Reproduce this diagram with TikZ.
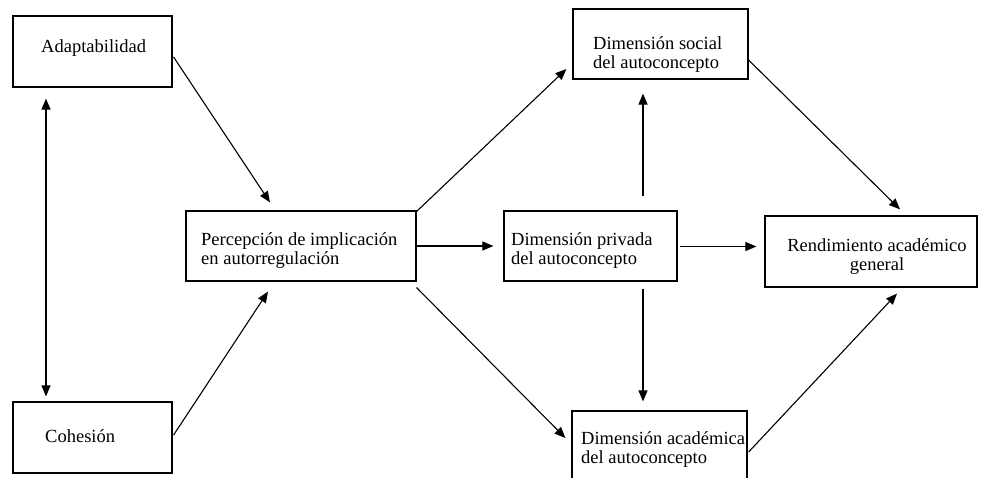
\documentclass[tikz,border=0pt]{standalone}
\usepackage{fontspec}
\setmainfont{Liberation Serif}
\usetikzlibrary{arrows.meta,calc}
\begin{document}
\begin{tikzpicture}[x=1pt,y=-1pt,
  box/.style={draw,line width=1.2pt,rectangle,inner sep=0pt},
  lbl/.style={font=\fontsize{18.5}{19}\selectfont,inner sep=0pt,align=left},
  arr/.style={line width=1.1pt,-{Triangle[length=11pt,width=9pt]}},
  darr/.style={line width=1.1pt,{Triangle[length=11pt,width=9pt]}-{Triangle[length=11pt,width=9pt]}}]
\useasboundingbox (0,0) rectangle (982,477);
% boxes
\node[box,minimum width=159pt,minimum height=71pt] (A) at (92.5,51.5) {};
\node[box,minimum width=159pt,minimum height=71pt] (C) at (92.5,437.5) {};
\node[box,minimum width=230pt,minimum height=70pt] (P) at (301,246) {};
\node[box,minimum width=173pt,minimum height=70pt] (V) at (590.5,246) {};
\node[box,minimum width=175pt,minimum height=70pt] (S) at (660.5,44) {};
\node[box,minimum width=175pt,minimum height=70pt] (K) at (659.5,446) {};
\node[box,minimum width=212pt,minimum height=71pt] (R) at (871,251.5) {};
% labels
\node[lbl,anchor=base west] (tA) at (41,52) {Adaptabilidad};
\node[lbl,anchor=base west] (tC) at (45,442) {Cohesión};
\node[lbl,anchor=west] (tP) at (201,250.2) {Percepción de implicación\\en autorregulación};
\node[lbl,anchor=west] (tV) at (511,250.7) {Dimensión privada\\del autoconcepto};
\node[lbl,anchor=west] (tS) at (593,54.2) {Dimensión social\\del autoconcepto};
\node[lbl,anchor=west] (tK) at (581,449.7) {Dimensión académica\\del autoconcepto};
\node[lbl,anchor=center,align=center] (tR) at (877,256.6) {Rendimiento académico\\general};
% connectors
\draw[arr] ($(A.east)+(1,5.5)$) -- ($(P.north)+(-31,-8)$);
\draw[arr] ($(C.east)+(1,-2.5)$) -- ($(P.south)+(-33,10)$);
\draw[darr] ($(A.south)+(-46.5,11)$) -- ($(C.north)+(-46.5,-5)$);
\draw[arr] ($(P.north east)+(-1,2)$) -- ($(S.west)+(-6,25)$);
\draw[arr] (P.east) -- ($(V.west)+(-10,0)$);
\draw[arr] ($(P.south east)+(0,6)$) -- ($(K.west)+(-6,-8)$);
\draw[arr] ($(V.north)+(52.5,-14)$) -- ($(S.south)+(-17.5,14)$);
\draw[arr] ($(V.south)+(52.5,7)$) -- ($(K.north)+(-16.5,-9)$);
\draw[arr] ($(V.east)+(2,0.5)$) -- ($(R.west)+(-8,-5)$);
\draw[arr] ($(S.east)+(0,16)$) -- ($(R.north)+(29,-6)$);
\draw[arr] ($(K.east)+(1,6)$) -- ($(R.south)+(26,6)$);
\end{tikzpicture}
\end{document}
